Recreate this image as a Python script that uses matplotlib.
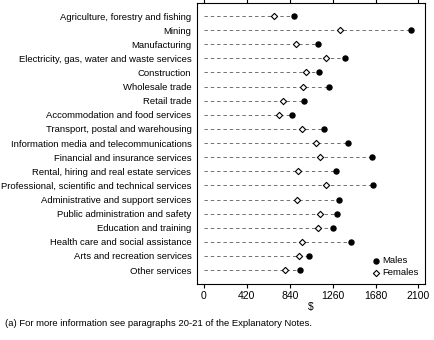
import numpy as np
import matplotlib.pyplot as plt

plt.rcParams['font.family'] = ['Liberation Sans Narrow', 'Liberation Sans', 'DejaVu Sans']

industries = [
    'Agriculture, forestry and fishing', 'Mining', 'Manufacturing',
    'Electricity, gas, water and waste services', 'Construction',
    'Wholesale trade', 'Retail trade', 'Accommodation and food services',
    'Transport, postal and warehousing', 'Information media and telecommunications',
    'Financial and insurance services', 'Rental, hiring and real estate services',
    'Professional, scientific and technical services',
    'Administrative and support services', 'Public administration and safety',
    'Education and training', 'Health care and social assistance',
    'Arts and recreation services', 'Other services',
]
males = [885, 2024, 1120, 1381, 1130, 1228, 979, 858, 1172, 1407,
         1642, 1290, 1659, 1322, 1300, 1267, 1440, 1032, 940]
females = [686, 1332, 901, 1195, 999, 970, 774, 731, 963, 1100,
           1136, 917, 1191, 907, 1133, 1120, 960, 930, 790]
xticks = [0, 420, 840, 1260, 1680, 2100]

fig = plt.figure(figsize=(4.35, 3.4), dpi=100)
ax = fig.add_axes([0.453, 0.165, 0.524, 0.826])

y = np.arange(len(industries))
for yi, m, f in zip(y, males, females):
    ax.plot([0, max(m, f)], [yi, yi], color='#707070', lw=0.7, ls=(0, (3.5, 3)), zorder=1)
ax.scatter(males, y, marker='o', s=13, color='black', zorder=3, label='Males')
ax.scatter(females, y, marker='D', s=10, facecolor='white', edgecolor='black',
           linewidths=0.8, zorder=3, label='Females')

ax.set_xlim(-68, 2164)
ax.set_ylim(len(industries) - 1 + 0.98, -0.92)
ax.set_xticks(xticks)
ax.set_xticklabels([str(v) for v in xticks], fontsize=7.5)
ax.set_yticks(y)
ax.set_yticklabels(industries, fontsize=6.8)
ax.tick_params(axis='y', length=0, pad=4)
ax.tick_params(axis='x', direction='out', length=3, width=0.8, top=True, pad=2)
for s in ax.spines.values():
    s.set_linewidth(0.8)
ax.set_xlabel('$', fontsize=7.5, labelpad=1)

leg = ax.legend(loc='lower right', fontsize=6.8, frameon=False, handletextpad=0.1,
                handlelength=1.0, borderaxespad=0.3, labelspacing=0.3)

fig.text(0.012, 0.042, '(a) For more information see paragraphs 20-21 of the Explanatory Notes.',
         fontsize=6.8)

fig.savefig('out.png', dpi=100)
